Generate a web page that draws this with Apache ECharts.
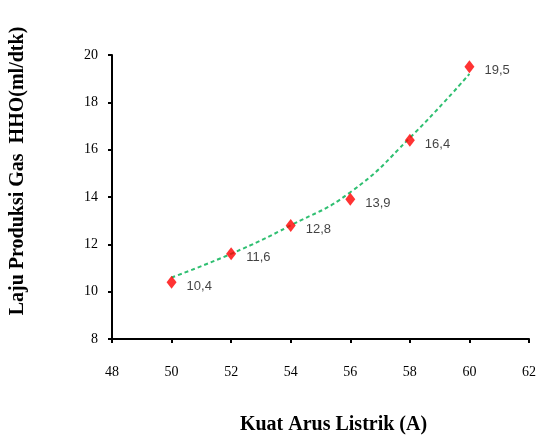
<!DOCTYPE html>
<html>
<head>
<meta charset="utf-8">
<script src="https://cdn.jsdelivr.net/npm/echarts@6/dist/echarts.min.js"></script>
<style>
  html, body { margin: 0; padding: 0; background: #fff; }
</style>
</head>
<body>
<div id="chart" style="width: 539px; height: 440px"></div>
<script>
// arus listrik (A)
var arusList = [50, 52, 54, 56, 58, 60];
// laju produksi gas HHO (ml/dtk)
var lajuList = [10.4, 11.6, 12.8, 13.9, 16.4, 19.5];
// garis trend
var trendList = [10.6, 11.6, 12.8, 14.2, 16.5, 19.2];

var pointData = [];
var trendData = [];
for (let i = 0; i < arusList.length; i++) {
  pointData.push([arusList[i], lajuList[i]]);
  trendData.push([arusList[i], trendList[i]]);
}

var chart = echarts.init(document.getElementById("chart"));
var serif = "Liberation Serif";

var option = {
  animation: false,
  grid: {
    left: 110,
    right: 4,
    top: 55,
    bottom: 91,
  },
  xAxis: {
    type: "value",
    min: 48,
    max: 62,
    interval: 2,
    name: "Kuat Arus Listrik (A)",
    nameLocation: "middle",
    nameGap: 76,
    nameTextStyle: {
      fontFamily: serif,
      fontWeight: "bold",
      fontSize: 20,
      color: "#000",
      padding: [0, 0, 0, 26],
    },
    axisLine: { lineStyle: { color: "#000", width: 2 } },
    axisTick: { show: true, length: 4, lineStyle: { color: "#000", width: 2 } },
    axisLabel: {
      margin: 26,
      fontFamily: serif,
      fontSize: 14,
      color: "#000",
    },
    splitLine: { show: false },
  },
  yAxis: {
    type: "value",
    min: 8,
    max: 20,
    interval: 2,
    name: "Laju Produksi Gas  HHO(ml/dtk)",
    nameLocation: "middle",
    nameGap: 84,
    nameTextStyle: {
      fontFamily: serif,
      fontWeight: "bold",
      fontSize: 20,
      color: "#000",
      padding: [0, 0, 0, 52],
    },
    axisLine: { show: true, lineStyle: { color: "#000", width: 2 } },
    axisTick: { show: true, length: 4, lineStyle: { color: "#000", width: 2 } },
    axisLabel: {
      margin: 14,
      fontFamily: serif,
      fontSize: 14,
      color: "#000",
    },
    splitLine: { show: false },
  },
  series: [
    {
      name: "trend",
      type: "line",
      smooth: true,
      showSymbol: false,
      data: trendData,
      lineStyle: { color: "#2fbf71", width: 2, type: [4, 3] },
      z: 1,
    },
    {
      name: "laju",
      type: "scatter",
      symbol: "diamond",
      symbolSize: [10, 13],
      itemStyle: { color: "#ff0000" },
      data: pointData,
      label: {
        show: true,
        position: "right",
        distance: 10,
        offset: [0, 4],
        fontFamily: "Liberation Sans",
        fontSize: 13,
        color: "#111",
        formatter: function (p) {
          return p.value[1].toFixed(1).replace(".", ",");
        },
      },
      z: 2,
    },
  ],
};
chart.setOption(option);
</script>
</body>
</html>
